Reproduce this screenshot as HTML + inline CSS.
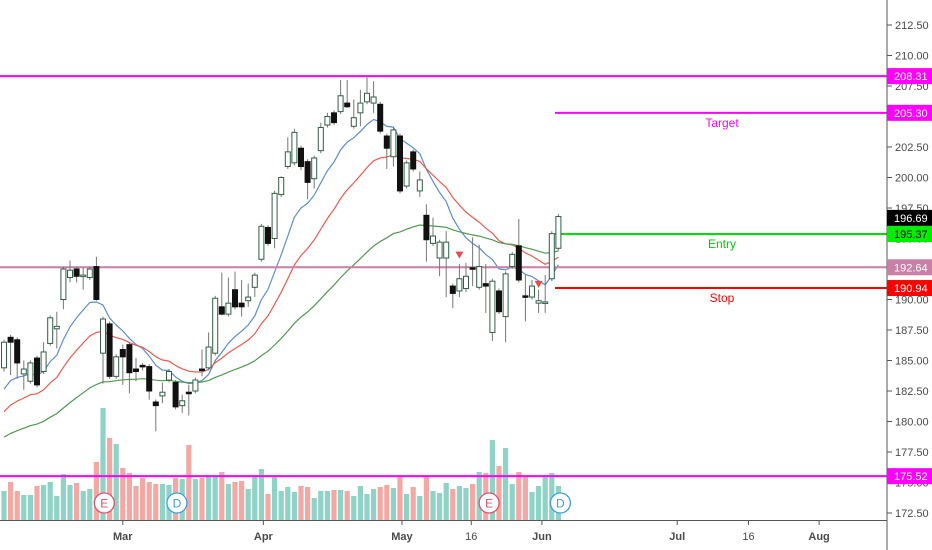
<!DOCTYPE html>
<html><head><meta charset="utf-8">
<style>
html,body{margin:0;padding:0;background:#fff;}
svg{display:block;font-family:"Liberation Sans",sans-serif;}
</style></head>
<body>
<svg id="chart" width="932" height="550" viewBox="0 0 932 550" xmlns="http://www.w3.org/2000/svg"></svg>
<script>
// OHLC data
const opens  = [184.4,186.9,186.7,183.9,183.3,185.2,184.1,186.4,187.6,190.0,191.8,192.5,191.9,191.8,192.7,185.6,188.0,183.7,185.9,186.3,184.3,184.6,184.5,181.6,182.1,183.4,183.2,181.3,182.4,182.5,184.3,184.4,185.6,189.4,188.8,190.8,189.7,189.9,191.0,193.3,195.9,195.0,198.6,200.9,201.2,202.4,201.3,199.9,202.2,204.3,205.3,205.4,206.1,204.2,205.3,206.2,206.1,206.0,203.4,201.7,203.4,199.3,202.1,198.9,196.9,194.6,193.4,193.4,191.1,190.7,190.9,192.6,191.0,191.3,187.3,190.7,188.6,192.7,194.4,190.3,190.2,189.7,189.8,191.7,194.2];
const highs  = [186.7,187.1,186.9,185.0,185.0,185.4,186.5,188.7,189.0,192.7,193.2,192.7,192.6,192.7,193.5,188.6,188.2,185.5,186.3,186.5,185.2,184.8,184.7,181.8,183.2,184.3,183.4,182.2,183.0,183.6,185.9,187.3,190.3,192.2,191.8,192.3,191.6,191.3,192.2,196.2,196.1,198.9,200.1,203.3,204.0,202.6,201.5,201.8,204.5,205.3,205.5,208.0,208.0,206.4,207.2,208.4,207.9,206.2,203.6,204.1,203.6,201.4,202.3,200.5,197.8,196.7,194.9,195.6,191.3,192.9,193.0,195.1,194.5,192.9,191.7,190.9,192.3,193.9,196.6,192.0,191.6,190.8,192.0,195.6,197.0];
const lows   = [184.1,183.8,183.5,182.6,183.1,182.8,183.9,186.2,186.0,189.2,191.4,191.4,190.8,191.6,189.9,183.1,183.5,183.5,183.0,182.3,183.3,184.2,181.8,179.2,181.5,183.2,181.0,180.7,180.5,182.3,183.7,184.2,185.4,188.7,188.6,189.2,188.6,189.4,190.2,193.1,194.4,194.2,198.4,200.7,201.0,200.6,198.2,199.1,202.0,204.1,204.3,205.2,205.7,204.0,204.2,206.0,205.3,203.6,200.7,200.9,198.7,199.1,200.5,198.4,193.1,194.4,191.9,190.2,189.3,190.2,190.6,191.1,190.8,188.9,186.6,188.8,186.5,192.5,191.4,188.2,190.0,188.9,188.9,191.5,194.0];
const closes = [186.5,186.5,184.8,184.3,184.8,183.0,185.7,188.5,187.8,192.5,192.4,191.9,192.0,192.5,190.0,188.4,183.7,185.3,185.3,184.0,184.1,184.5,182.5,181.3,182.4,184.1,181.2,181.7,182.3,183.4,184.2,186.1,190.1,188.8,189.7,189.4,189.4,190.2,192.0,196.0,194.6,198.7,200.0,202.1,203.7,200.9,199.6,201.6,204.1,205.0,204.5,206.7,205.8,204.9,206.1,206.9,206.6,203.8,202.4,203.9,198.9,201.2,200.7,199.8,194.9,195.2,194.7,194.7,190.5,191.7,191.9,192.5,192.7,191.1,191.5,189.0,192.1,193.7,191.6,190.2,191.1,189.9,189.8,195.4,196.8];
const volumes = [29,38,29,25,25,34,35,38,24,46,35,37,29,31,58,112,82,76,52,47,34,42,38,36,36,35,42,41,75,41,42,44,44,48,36,38,39,31,44,51,26,43,29,33,28,34,33,22,29,29,30,30,29,24,34,26,31,33,35,32,44,26,33,24,43,29,27,37,31,34,32,36,48,47,80,54,72,36,48,43,28,34,43,47,34];
const priceTicks = [172.5,175,177.5,180,182.5,185,187.5,190,192.5,195,197.5,200,202.5,205,207.5,210,212.5];
const dateLabels = ["Mar","Apr","May","16","Jun","Jul","16","Aug"];
const dateIndex  = [18,39.3,60.3,70.8,81.5,102,112.8,123.5];
const levels = [208.31,205.30,192.64,190.94,175.52,195.37];
const emaPeriods = [10,20,50];
const emaSeeds = [181.8,180.2,178.4];
const signalIdx = [69,81];
const signalPrice = [193.6,191.2];

const svg = document.getElementById('chart');
const NS = 'http://www.w3.org/2000/svg';
const yP = p => 513 - (p - 172.5) * 12.2;
const xI = i => 4 + i * 6.6;
const yV = v => 520 - v;
function mk(tag, attrs, parent){
  const e = document.createElementNS(NS, tag);
  for (const k in attrs) e.setAttribute(k, attrs[k]);
  (parent||svg).appendChild(e);
  return e;
}

const gVol = mk('g', {});


volumes.forEach((v,i)=>{
  const up = closes[i] >= opens[i];
  const r = mk('rect', {x: xI(i)-2.6, y: yV(v), width: 5.2, height: v, fill: up ? '#8fd3c7' : '#f4a8a4'}, gVol);
  
  
});

const emaColors = ['#5b8fc9','#ee5a4f','#4f9a4f'];
emaPeriods.forEach((n,k)=>{
  let e = emaSeeds[k]; const a = 2/(n+1); let d = '';
  closes.forEach((c,i)=>{ e = e + a*(c-e); d += (i?'L':'M') + xI(i).toFixed(1) + ' ' + yP(e).toFixed(1); });
  const p = mk('path', {d, fill:'none', stroke: emaColors[k], 'stroke-width': 1.2});
  
  
});

const lvlColors = ['#ff00ff','#ff00ff','#c97fa6','#ff0000','#ff00ff','#00e000'];
const lvlStart  = [0,555,0,555,0,555];
const lvlNames  = ['resistance-line','target-line','support-line','stop-line','volume-line','entry-line'];
levels.forEach((p,k)=>{
  const l = mk('line', {x1: lvlStart[k], x2: 887, y1: yP(p), y2: yP(p), stroke: lvlColors[k], 'stroke-width': 2});
  
  
});

const gC = mk('g', {});


opens.forEach((o,i)=>{
  const c = closes[i], x = xI(i), up = c >= o;
  const w = mk('line', {x1:x, x2:x, y1:yP(highs[i]), y2:yP(lows[i]), stroke:'#777', 'stroke-width':1}, gC);
  
  
  const top = yP(Math.max(o,c)), h = Math.max(1.5, Math.abs(yP(o)-yP(c)));
  const b = mk('rect', {x:x-2.5, y:top, width:5, height:h, fill: up ? '#fff' : '#111', stroke: up ? '#2f5f45' : '#111', 'stroke-width':1}, gC);
  
  
});

signalIdx.forEach((i,k)=>{
  const x = xI(i), y = yP(signalPrice[k]);
  const t = mk('path', {d:`M${x-4} ${y-4}L${x+4} ${y-4}L${x} ${y+3}Z`, fill:'#e84c4c'});
  
  
});

[['Target',205.30,'#ff00ff'],['Entry',195.37,'#00cc00'],['Stop',190.94,'#ff0000']].forEach(([s,p,c])=>{
  const t = mk('text', {x:722, y:yP(p)+14, fill:c, 'font-size':12, 'text-anchor':'middle'});
  t.textContent = s;
  
  
});

[['E',15.2,'#e0506a'],['D',26.2,'#3aa0e0'],['E',73.5,'#e0506a'],['D',84.3,'#3aa0e0']].forEach(([s,i,c])=>{
  const x = xI(i);
  const g = mk('g', {});
  
  
  mk('circle', {cx:x, cy:503, r:10, fill:'#fff', stroke:c, 'stroke-width':1.3}, g);
  const t = mk('text', {x:x, y:507.5, fill:c, 'font-size':12, 'text-anchor':'middle'}, g);
  t.textContent = s;
});

const ax = mk('line', {x1:887, x2:887, y1:0, y2:550, stroke:'#555', 'stroke-width':1});


priceTicks.forEach(p=>{
  const y = yP(p);
  mk('line', {x1:887, x2:892, y1:y, y2:y, stroke:'#555'});
  const t = mk('text', {x:895, y:y+4, fill:'#4a4a4a', 'font-size':11});
  t.textContent = p.toFixed(2);
  
  
});
const boxVals = [208.31,205.30,196.69,195.37,192.64,190.94,175.52];
const boxCols = ['#ff00ff','#ff00ff','#000','#00ee00','#c97fa6','#ff0000','#ff00ff'];
const boxTxt  = ['#fff','#fff','#fff','#000','#fff','#fff','#fff'];
boxVals.forEach((p,k)=>{
  const y = yP(p);
  mk('rect', {x:887, y:y-8, width:45, height:16, fill:boxCols[k]});
  const t = mk('text', {x:894, y:y+4, fill:boxTxt[k], 'font-size':11});
  t.textContent = p.toFixed(2);
  
  
});

const bx = mk('line', {x1:0, x2:887, y1:520.5, y2:520.5, stroke:'#555', 'stroke-width':1});


dateLabels.forEach((s,k)=>{
  const x = xI(dateIndex[k]);
  mk('line', {x1:x, x2:x, y1:520, y2:525, stroke:'#555'});
  const t = mk('text', {x:x, y:540, fill:'#4a4a4a', 'font-size':11, 'text-anchor':'middle', 'font-weight': s==='16' ? 'normal' : 'bold'});
  t.textContent = s;
  
  
});
</script>
</body></html>
